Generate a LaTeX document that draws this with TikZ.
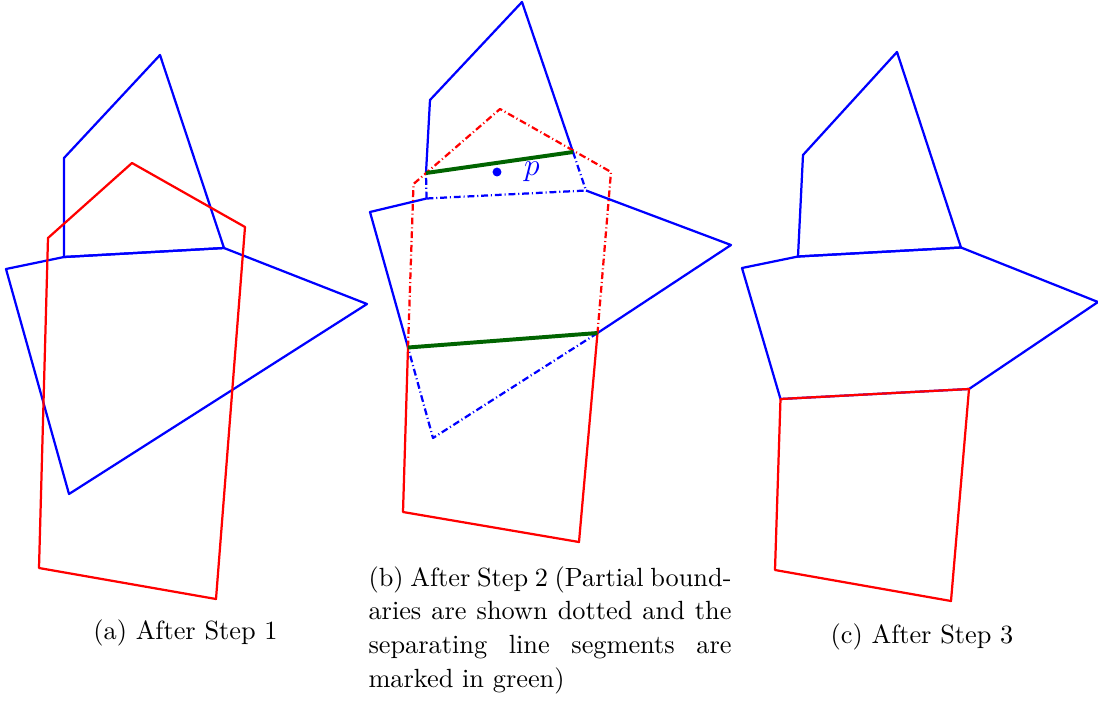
\documentclass[tikz,border=0pt]{standalone}
\definecolor{sepgreen}{RGB}{0,100,0}
\begin{document}
\begin{tikzpicture}[x=0.38pt,y=-0.38pt,
  bnd/.style={line width=0.85pt,line join=round},
  bluebnd/.style={bnd,blue},
  redbnd/.style={bnd,red},
  partial/.style={dash pattern=on 2.6pt off 1.1pt on 0.4pt off 1.1pt},
  sepline/.style={sepgreen,line width=1.5pt},
  caption/.style={inner sep=0pt,font=\fontsize{10}{12.8}\selectfont}]
\useasboundingbox (0,0) rectangle (1098,708);

% ---------- (a) After Step 1 ----------
\coordinate (a1) at (64,257);
\coordinate (a2) at (64,158);
\coordinate (a3) at (160,55);
\coordinate (a4) at (224,248);
\coordinate (a5) at (6,269);
\coordinate (a6) at (367,304);
\coordinate (a7) at (69,494);
\coordinate (ar1) at (132,163);
\coordinate (ar2) at (245,227);
\coordinate (ar3) at (216,599);
\coordinate (ar4) at (39,568);
\coordinate (ar5) at (48,238);
\draw[bluebnd] (a1) -- (a2) -- (a3) -- (a4) -- cycle;
\draw[bluebnd] (a5) -- (a1) -- (a4) -- (a6) -- (a7) -- cycle;
\draw[redbnd] (ar1) -- (ar2) -- (ar3) -- (ar4) -- (ar5) -- cycle;
\node[caption,anchor=base] (capa) at (185.5,639) {(a) After Step 1};

% ---------- (b) After Step 2 ----------
\coordinate (t1) at (430,100);
\coordinate (t2) at (522,2);
\coordinate (t3) at (573,152);
\coordinate (t4) at (586,190.5);
\coordinate (t5) at (426.5,198.5);
\coordinate (t6) at (426,173);
\coordinate (p1) at (370,212);
\coordinate (p4) at (731,245);
\coordinate (gl) at (408,347.5);
\coordinate (gr) at (597.5,333);
\coordinate (p6) at (433,438);
\coordinate (r1) at (500,109);
\coordinate (r2) at (611,172);
\coordinate (r4) at (579,542);
\coordinate (r5) at (403,512);
\coordinate (rl) at (413.5,184);
% blue boundaries
\draw[bluebnd] (t6) -- (t1) -- (t2) -- (t3);
\draw[bluebnd,partial] (t3) -- (t4);
\draw[bluebnd,partial] (t5) -- (t6);
\draw[bluebnd] (gl) -- (p1) -- (t5);
\draw[bluebnd,partial] (t5) -- (t4);
\draw[bluebnd] (t4) -- (p4) -- (gr);
\draw[bluebnd,partial] (gr) -- (p6) -- (gl);
% red boundary
\draw[redbnd,partial] (gl) -- (rl) -- (r1) -- (r2) -- (gr);
\draw[redbnd] (gr) -- (r4) -- (r5) -- (gl);
% separating segments
\draw[sepline] (t6) -- (t3);
\draw[sepline] (gl) -- (gr);
% point p
\fill[blue] (497,172) circle (1.7pt) coordinate (p);
\node[blue,inner sep=0pt,font=\fontsize{12.5}{14}\selectfont] (plabel) at (532,172) {$p$};
\node[caption,anchor=north west,text width=363*0.38pt,align=justify] (capb) at (368,566)
  {(b) After Step 2 (Partial bound-\linebreak aries are shown dotted and the\linebreak separating line segments are\linebreak marked in green)};

% ---------- (c) After Step 3 ----------
\coordinate (c1) at (798,256.5);
\coordinate (c2) at (803,155);
\coordinate (c3) at (897,52);
\coordinate (c4) at (961,247.5);
\coordinate (c5) at (742,268);
\coordinate (c6) at (1098,302);
\coordinate (c7) at (969,389);
\coordinate (c8) at (780.5,399);
\coordinate (c9) at (951,601);
\coordinate (c10) at (775,570);
\draw[bluebnd] (c1) -- (c2) -- (c3) -- (c4) -- cycle;
\draw[bluebnd] (c5) -- (c1) -- (c4) -- (c6) -- (c7) -- (c8) -- cycle;
\draw[redbnd] (c8) -- (c7) -- (c9) -- (c10) -- cycle;
\node[caption,anchor=base] (capc) at (922,643) {(c) After Step 3};
\end{tikzpicture}
\end{document}
